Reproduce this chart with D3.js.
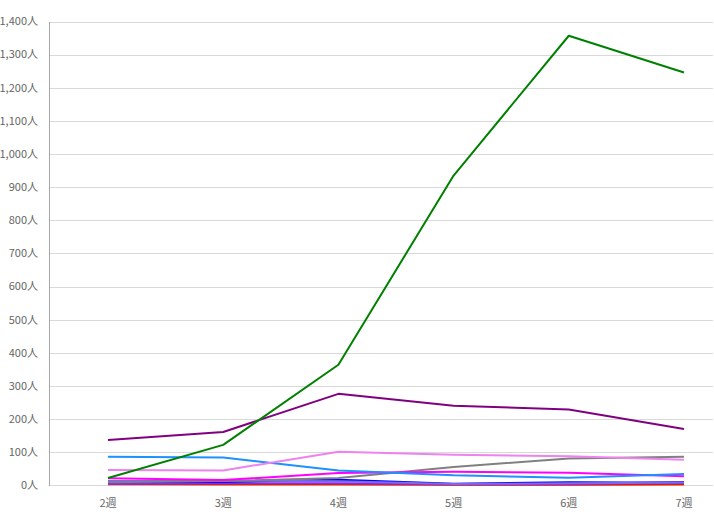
<!DOCTYPE html>
<html>
<head>
<meta charset="utf-8">
<script src="https://cdn.jsdelivr.net/npm/d3@7"></script>
<style>
  body { margin: 0; background: #fff; }
  text { font-family: "Noto Sans CJK JP", "Noto Sans", sans-serif; }
</style>
</head>
<body>
<div id="chart"></div>
<script>
// weeks on the x axis
const weeks = ['2週', '3週', '4週', '5週', '6週', '7週'];
const yTicks = [0, 100, 200, 300, 400, 500, 600, 700, 800, 900, 1000, 1100, 1200, 1300, 1400];

// series values
const greenVals = [22, 122, 364, 935, 1357, 1246];
const purpleVals = [137, 161, 276, 240, 229, 170];
const dodgerVals = [86, 84, 45, 30, 23, 34];
const violetVals = [46, 45, 101, 92, 88, 77];
const grayVals = [9, 13, 22, 55, 81, 86];
const magentaVals = [21, 16, 37, 41, 38, 27];
const slateVals = [13, 14, 12, 4, 6, 8];
const blueVals = [11, 10, 17, 5, 9, 8];
const blueVioletVals = [5, 6, 6, 3, 4, 10];
const orangeVals = [5, 2, 2, 2, 2, 2];
const crimsonVals = [3, 3, 3, 2, 2, 3];

// drawn in this order, last on top
const series = [
    { color: '#FFA500', values: orangeVals },
    { color: '#DC143C', values: crimsonVals },
    { color: '#8A2BE2', values: blueVioletVals },
    { color: '#0000FF', values: blueVals },
    { color: '#7B68EE', values: slateVals },
    { color: '#808080', values: grayVals },
    { color: '#FF00FF', values: magentaVals },
    { color: '#1E90FF', values: dodgerVals },
    { color: '#EE82EE', values: violetVals },
    { color: '#800080', values: purpleVals },
    { color: '#008000', values: greenVals }
];

const width = 714, height = 526;
const plotLeft = 49, plotRight = 713, plotTop = 21.5, plotBottom = 485.3;

const svg = d3.select('#chart')
    .append('svg')
    .attr('width', width)
    .attr('height', height);

const x = d3.scalePoint()
    .domain(weeks)
    .range([108, 684]);

const y = d3.scaleLinear()
    .domain([0, 1400])
    .range([plotBottom, plotTop]);

// gridlines
svg.selectAll('line.grid')
    .data(yTicks)
    .enter()
    .append('line')
    .attr('class', 'grid')
    .attr('x1', plotLeft)
    .attr('x2', plotRight)
    .attr('y1', d => Math.round(y(d)) + 0.5)
    .attr('y2', d => Math.round(y(d)) + 0.5)
    .attr('stroke', '#d9d9d9')
    .attr('stroke-width', 1);

// y axis line
svg.append('line')
    .attr('x1', plotLeft + 0.5)
    .attr('x2', plotLeft + 0.5)
    .attr('y1', Math.round(plotTop))
    .attr('y2', Math.round(plotBottom) + 1)
    .attr('stroke', '#a6a6a6')
    .attr('stroke-width', 1);

// y tick labels
svg.selectAll('text.ylab')
    .data(yTicks)
    .enter()
    .append('text')
    .attr('class', 'ylab')
    .attr('x', 38)
    .attr('y', d => y(d))
    .attr('dy', '0.35em')
    .attr('text-anchor', 'end')
    .attr('font-size', '11px')
    .attr('fill', '#666')
    .text(d => d3.format(',')(d) + '人');

// x labels
svg.selectAll('text.xlab')
    .data(weeks)
    .enter()
    .append('text')
    .attr('class', 'xlab')
    .attr('x', d => x(d))
    .attr('y', 503)
    .attr('dy', '0.35em')
    .attr('text-anchor', 'middle')
    .attr('font-size', '11px')
    .attr('fill', '#666')
    .text(d => d);

const line = d3.line()
    .x((d, i) => x(weeks[i]))
    .y(d => y(d));

svg.selectAll('path.series')
    .data(series)
    .enter()
    .append('path')
    .attr('class', 'series')
    .attr('d', d => line(d.values))
    .attr('fill', 'none')
    .attr('stroke', d => d.color)
    .attr('stroke-width', 2)
    .attr('stroke-linejoin', 'round');
</script>
</body>
</html>
